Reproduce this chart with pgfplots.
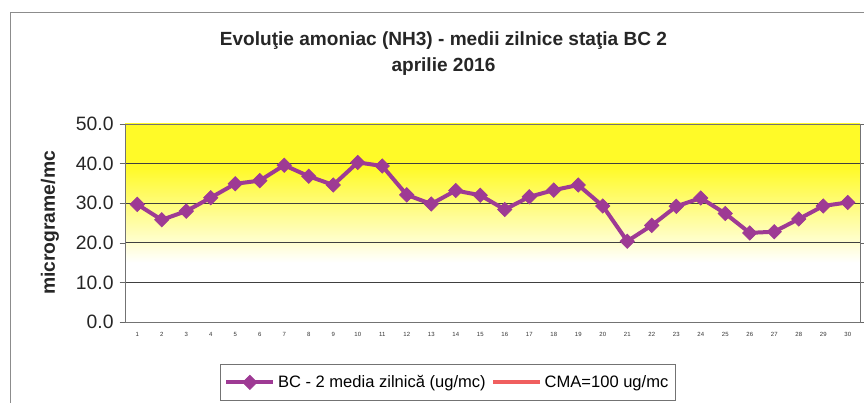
\documentclass[border=0pt]{standalone}
\usepackage{pgfplots}
\pgfplotsset{compat=1.18}
\usepackage{fontspec}
\setmainfont{Liberation Sans}
\definecolor{bcline}{RGB}{158,58,148}
\definecolor{cma}{RGB}{240,95,95}
\definecolor{ylw}{RGB}{255,250,40}
\pgfdeclareverticalshading{bgshade}{100bp}{color(0bp)=(white); color(40bp)=(white); color(64bp)=(ylw); color(100bp)=(ylw)}
\begin{document}
\begin{tikzpicture}
\useasboundingbox (0,0) rectangle (648pt,302.25pt);
\draw[black!45, line width=0.6pt] (7.5pt,0pt) -- (7.5pt,293.25pt) -- (648pt,293.25pt);
\node[font=\bfseries\fontsize{14.3}{19.5}\selectfont, align=center, text=black!85] at (332.6pt,262pt) {Evoluţie amoniac (NH3) - medii zilnice staţia BC 2\\aprilie 2016};
\begin{axis}[
  at={(93.75pt,60.75pt)}, anchor=south west,
  scale only axis, width=551.25pt, height=148.5pt,
  xmin=0.5, xmax=30.5, ymin=0, ymax=50,
  xtick={1,...,30}, ytick={0,10,...,50},
  ymajorgrids, grid style={black!75, line width=0.5pt},
  axis line style={black!55, line width=0.6pt},
  tick align=outside, major tick length=4pt,
  ytick style={black!60},
  xtick style={draw=none},
  /pgf/number format/assume math mode=true,
  yticklabel style={font=\fontsize{14.5}{14.5}\selectfont, text=black!85, xshift=-1pt, /pgf/number format/fixed, /pgf/number format/fixed zerofill, /pgf/number format/precision=1},
  xticklabel style={font=\fontsize{4.5}{5}\selectfont, text=black!80},
  ylabel={micrograme/mc},
  ylabel style={font=\bfseries\fontsize{14.5}{14.5}\selectfont, text=black!85, at={(axis description cs:-0.102,0.5)}, anchor=center},
  axis background/.style={shading=bgshade},
  legend style={at={(0.439,-0.305)}, anchor=center, draw=black!55, font=\fontsize{12.4}{12.4}\selectfont, legend columns=2, /tikz/every even column/.append style={column sep=2pt}, inner ysep=6pt, inner xsep=3pt},
  legend image code/.code={\draw[mark repeat=2,mark phase=2,#1] plot coordinates {(0cm,0cm)(0.62cm,0cm)(1.24cm,0cm)};},
]
\addplot[bcline, line width=3pt, mark=square*, mark size=3.8pt, mark options={rotate=45, line width=0.5pt}] coordinates {
(1,29.7) (2,25.8) (3,28.0) (4,31.4) (5,34.9) (6,35.7) (7,39.6) (8,36.8) (9,34.6) (10,40.3)
(11,39.4) (12,32.1) (13,29.8) (14,33.2) (15,32.0) (16,28.4) (17,31.6) (18,33.3) (19,34.6) (20,29.3)
(21,20.4) (22,24.4) (23,29.2) (24,31.3) (25,27.4) (26,22.5) (27,22.8) (28,26.0) (29,29.3) (30,30.2)
};
\addlegendentry{BC - 2 media zilnică (ug/mc)}
\addlegendimage{cma, line width=3pt}
\addlegendentry{CMA=100 ug/mc}
\end{axis}
\end{tikzpicture}
\end{document}
